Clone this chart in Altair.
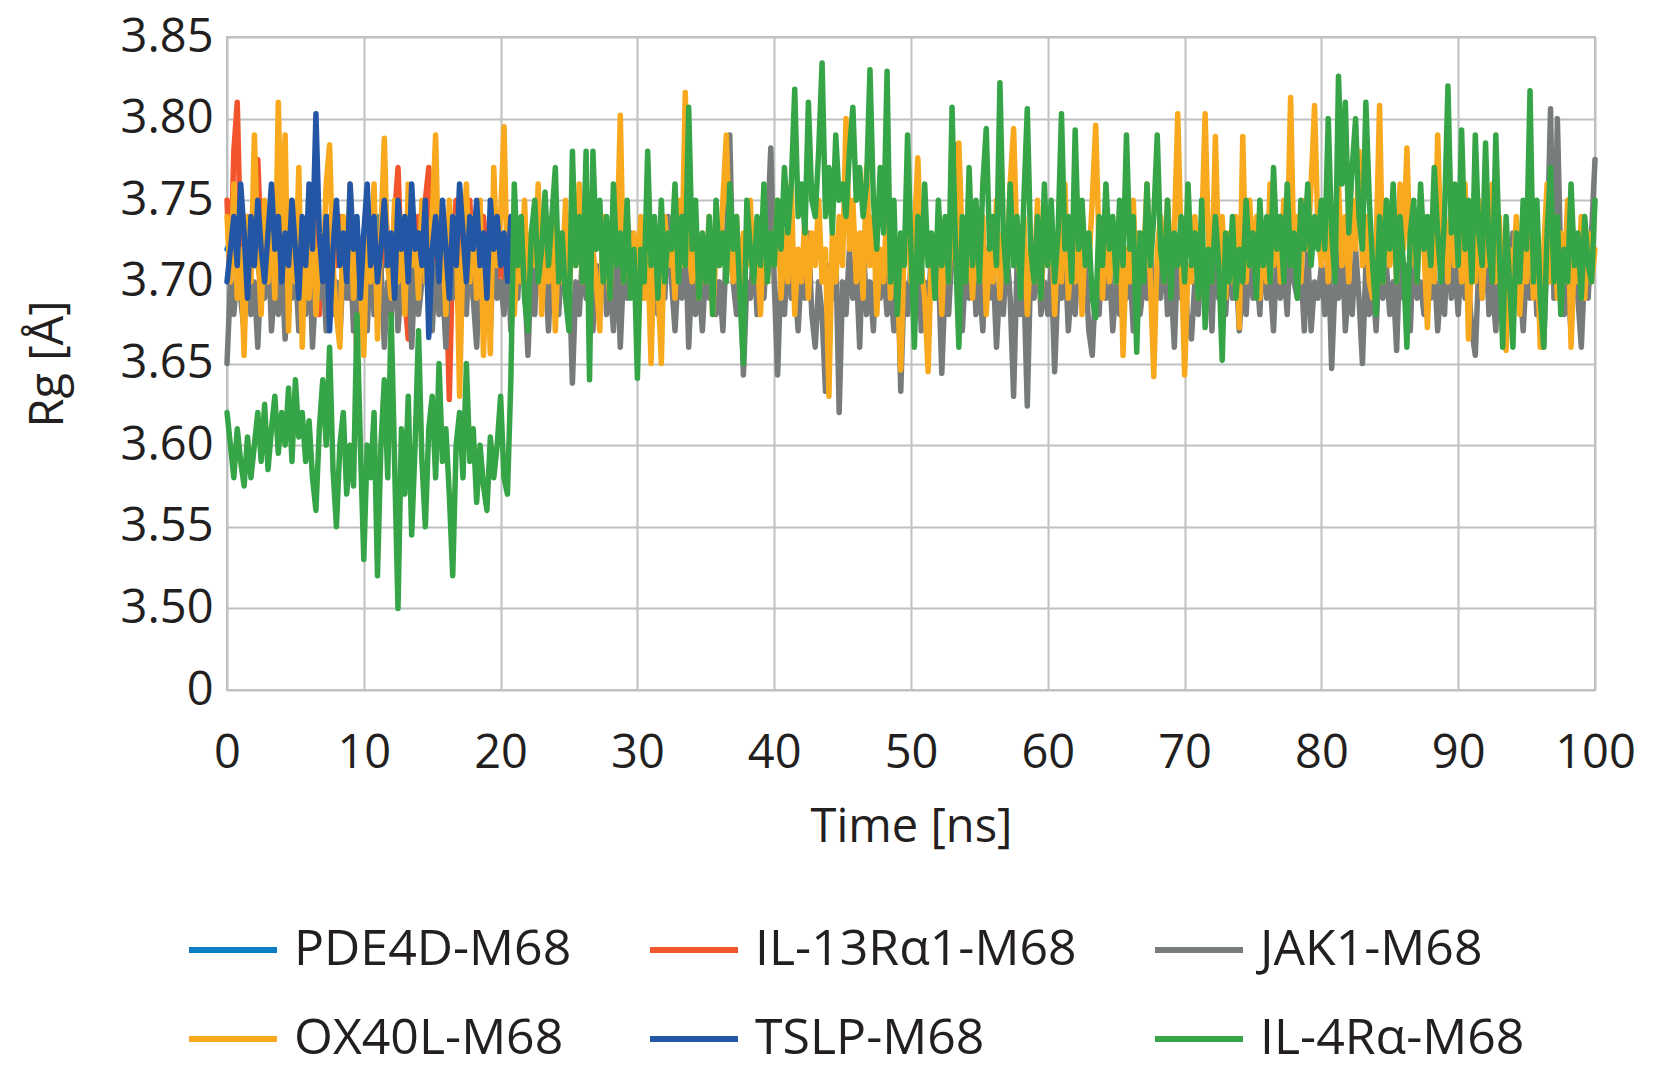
import altair as alt
import pandas as pd

# ---- series names / colours (legend order: row by row) ----
series_names = ["PDE4D-M68", "IL-13Rα1-M68", "JAK1-M68", "OX40L-M68", "TSLP-M68", "IL-4Rα-M68"]
series_colors = ["#0A7DC5", "#F2542B", "#777B7B", "#F9A91E", "#2456A6", "#36A547"]

# Rg values (sampling step in ns given per series)
pde4d_step = 0.5
pde4d = [3.72, 3.73, 3.71, 3.74, 3.72, 3.70, 3.73, 3.72, 3.74, 3.71, 3.73, 3.72, 3.70, 3.73, 3.72, 3.74, 3.71, 3.73, 3.72, 3.70,
         3.73, 3.72, 3.74, 3.71, 3.72, 3.73, 3.70, 3.72, 3.74, 3.71, 3.73, 3.72, 3.70, 3.73, 3.72, 3.74, 3.71, 3.72, 3.73, 3.71,
         3.72]

il13_step = 0.25
il13 = [3.75, 3.70, 3.78, 3.81, 3.72, 3.70, 3.69, 3.74, 3.71, 3.775, 3.72, 3.70, 3.74, 3.69, 3.72, 3.70, 3.75, 3.71, 3.68, 3.73,
        3.70, 3.74, 3.71, 3.69, 3.73, 3.70, 3.75, 3.68, 3.72, 3.70, 3.68, 3.73, 3.71, 3.74, 3.70, 3.72, 3.69, 3.73, 3.65, 3.72,
        3.70, 3.74, 3.71, 3.69, 3.73, 3.70, 3.76, 3.72, 3.70, 3.74, 3.77, 3.71, 3.69, 3.665, 3.73, 3.70, 3.74, 3.71, 3.75, 3.77,
        3.72, 3.70, 3.74, 3.69, 3.71, 3.628, 3.72, 3.75, 3.70, 3.74, 3.71, 3.75, 3.69, 3.72, 3.70, 3.74, 3.71, 3.69, 3.73, 3.70,
        3.72, 3.70, 3.73]

jak1_step = 0.25
jak1 = [3.65, 3.70, 3.68, 3.71, 3.69, 3.67, 3.72, 3.68, 3.70, 3.66, 3.71, 3.69, 3.73, 3.67, 3.70, 3.68, 3.71, 3.665, 3.70, 3.69,
        3.71, 3.67, 3.70, 3.68, 3.72, 3.66, 3.70, 3.69, 3.71, 3.67, 3.73, 3.68, 3.70, 3.665, 3.71, 3.69, 3.72, 3.67, 3.70, 3.68,
        3.70, 3.67, 3.72, 3.68, 3.69, 3.71, 3.66, 3.70, 3.68, 3.72, 3.67, 3.70, 3.69, 3.73, 3.66, 3.71, 3.68, 3.70, 3.74, 3.69,
        3.67, 3.71, 3.68, 3.70, 3.66, 3.72, 3.69, 3.71, 3.67, 3.70, 3.68, 3.73, 3.69, 3.66, 3.71, 3.68, 3.70, 3.67, 3.72, 3.69,
        3.70, 3.68, 3.72, 3.67, 3.70, 3.69, 3.73, 3.70, 3.655, 3.71, 3.68, 3.74, 3.69, 3.71, 3.67, 3.72, 3.70, 3.68, 3.73, 3.69,
        3.71, 3.638, 3.70, 3.68, 3.72, 3.69, 3.74, 3.67, 3.71, 3.69, 3.73, 3.68, 3.70, 3.67, 3.72, 3.66, 3.71, 3.69, 3.73, 3.70,
        3.68, 3.71, 3.69, 3.73, 3.67, 3.70, 3.68, 3.72, 3.69, 3.74, 3.70, 3.67, 3.71, 3.69, 3.73, 3.66, 3.71, 3.68, 3.70, 3.67,
        3.71, 3.69, 3.73, 3.68, 3.70, 3.67, 3.72, 3.79, 3.70, 3.68, 3.71, 3.643, 3.70, 3.69, 3.72, 3.68, 3.71, 3.69, 3.73, 3.782,
        3.70, 3.643, 3.71, 3.68, 3.72, 3.69, 3.70, 3.67, 3.71, 3.69, 3.73, 3.68, 3.66, 3.70, 3.68, 3.633, 3.71, 3.69, 3.72, 3.62,
        3.70, 3.68, 3.72, 3.69, 3.71, 3.66, 3.73, 3.68, 3.70, 3.67, 3.72, 3.69, 3.71, 3.68, 3.70, 3.67, 3.72, 3.633, 3.70, 3.68,
        3.71, 3.69, 3.73, 3.67, 3.70, 3.68, 3.72, 3.69, 3.71, 3.644, 3.70, 3.68, 3.72, 3.784, 3.70, 3.67, 3.71, 3.69, 3.73, 3.68,
        3.70, 3.67, 3.72, 3.69, 3.71, 3.66, 3.70, 3.68, 3.72, 3.69, 3.63, 3.71, 3.68, 3.70, 3.624, 3.71, 3.69, 3.73, 3.68, 3.70,
        3.68, 3.71, 3.645, 3.70, 3.69, 3.72, 3.67, 3.70, 3.68, 3.72, 3.69, 3.71, 3.67, 3.655, 3.70, 3.68, 3.73, 3.69, 3.71, 3.67,
        3.70, 3.68, 3.72, 3.69, 3.71, 3.67, 3.73, 3.68, 3.70, 3.69, 3.72, 3.67, 3.71, 3.69, 3.73, 3.68, 3.70, 3.66, 3.72, 3.69,
        3.71, 3.67, 3.665, 3.70, 3.68, 3.72, 3.69, 3.71, 3.67, 3.73, 3.69, 3.70, 3.68, 3.72, 3.69, 3.71, 3.67, 3.70, 3.68, 3.72,
        3.69, 3.71, 3.68, 3.73, 3.69, 3.70, 3.67, 3.72, 3.69, 3.71, 3.68, 3.73, 3.70, 3.69, 3.71, 3.67, 3.72, 3.67, 3.70, 3.69,
        3.71, 3.68, 3.72, 3.647, 3.70, 3.69, 3.73, 3.67, 3.70, 3.68, 3.72, 3.69, 3.65, 3.71, 3.68, 3.70, 3.67, 3.72, 3.69, 3.71,
        3.68, 3.70, 3.658, 3.72, 3.69, 3.71, 3.67, 3.73, 3.69, 3.70, 3.68, 3.72, 3.69, 3.71, 3.67, 3.70, 3.68, 3.73, 3.69, 3.71,
        3.68, 3.72, 3.69, 3.70, 3.67, 3.655, 3.71, 3.69, 3.73, 3.68, 3.70, 3.67, 3.72, 3.69, 3.71, 3.68, 3.73, 3.69, 3.70, 3.67,
        3.71, 3.69, 3.73, 3.68, 3.70, 3.66, 3.72, 3.806, 3.69, 3.80, 3.71, 3.68, 3.70, 3.67, 3.72, 3.69, 3.66, 3.71, 3.69, 3.73,
        3.775]

ox40l_step = 0.25
ox40l = [3.74, 3.70, 3.76, 3.69, 3.72, 3.655, 3.74, 3.70, 3.79, 3.72, 3.68, 3.75, 3.70, 3.74, 3.69, 3.81, 3.72, 3.79, 3.67, 3.75,
         3.70, 3.77, 3.66, 3.73, 3.69, 3.75, 3.68, 3.72, 3.70, 3.76, 3.784, 3.71, 3.68, 3.66, 3.74, 3.70, 3.76, 3.69, 3.73, 3.70,
         3.655, 3.74, 3.70, 3.76, 3.665, 3.73, 3.788, 3.71, 3.69, 3.75, 3.70, 3.74, 3.68, 3.76, 3.71, 3.73, 3.69, 3.75, 3.70, 3.72,
         3.74, 3.79, 3.70, 3.73, 3.68, 3.75, 3.71, 3.74, 3.63, 3.72, 3.76, 3.70, 3.74, 3.69, 3.75, 3.655, 3.72, 3.656, 3.77, 3.71,
         3.74, 3.795, 3.70, 3.73, 3.68, 3.72, 3.70, 3.75, 3.69, 3.73, 3.71, 3.76, 3.68, 3.72, 3.70, 3.74, 3.67, 3.73, 3.70, 3.75,
         3.69, 3.73, 3.71, 3.76, 3.70, 3.74, 3.68, 3.72, 3.70, 3.67, 3.74, 3.71, 3.69, 3.75, 3.72, 3.802, 3.70, 3.74, 3.71, 3.73,
         3.70, 3.74, 3.69, 3.72, 3.65, 3.73, 3.70, 3.65, 3.74, 3.71, 3.73, 3.69, 3.75, 3.71, 3.816, 3.72, 3.70, 3.74, 3.69, 3.73,
         3.70, 3.74, 3.68, 3.72, 3.71, 3.75, 3.79, 3.72, 3.70, 3.74, 3.69, 3.73, 3.71, 3.75, 3.70, 3.72, 3.68, 3.74, 3.70, 3.73,
         3.71, 3.75, 3.69, 3.73, 3.70, 3.76, 3.68, 3.72, 3.70, 3.74, 3.69, 3.73, 3.71, 3.75, 3.70, 3.72, 3.63, 3.73, 3.70, 3.74,
         3.71, 3.80, 3.72, 3.75, 3.70, 3.73, 3.69, 3.77, 3.71, 3.74, 3.68, 3.72, 3.70, 3.75, 3.69, 3.73, 3.70, 3.646, 3.72, 3.74,
         3.70, 3.73, 3.776, 3.71, 3.69, 3.645, 3.72, 3.70, 3.74, 3.68, 3.73, 3.70, 3.76, 3.71, 3.785, 3.72, 3.70, 3.74, 3.69, 3.73,
         3.70, 3.74, 3.68, 3.72, 3.70, 3.75, 3.69, 3.73, 3.71, 3.76, 3.794, 3.72, 3.70, 3.74, 3.68, 3.72, 3.70, 3.75, 3.69, 3.73,
         3.71, 3.74, 3.68, 3.73, 3.70, 3.76, 3.69, 3.72, 3.70, 3.74, 3.68, 3.73, 3.71, 3.75, 3.796, 3.72, 3.69, 3.74, 3.70, 3.73,
         3.70, 3.74, 3.655, 3.72, 3.70, 3.75, 3.69, 3.73, 3.71, 3.76, 3.70, 3.642, 3.72, 3.74, 3.70, 3.75, 3.71, 3.73, 3.803, 3.72,
         3.643, 3.71, 3.70, 3.74, 3.69, 3.73, 3.803, 3.72, 3.70, 3.789, 3.71, 3.74, 3.69, 3.73, 3.70, 3.74, 3.672, 3.789, 3.70, 3.75,
         3.71, 3.74, 3.69, 3.73, 3.70, 3.76, 3.71, 3.74, 3.70, 3.75, 3.72, 3.813, 3.71, 3.74, 3.70, 3.75, 3.72, 3.76, 3.808, 3.73,
         3.71, 3.75, 3.70, 3.74, 3.72, 3.76, 3.71, 3.74, 3.70, 3.75, 3.72, 3.78, 3.71, 3.74, 3.70, 3.69, 3.72, 3.808, 3.70, 3.75,
         3.71, 3.74, 3.70, 3.76, 3.72, 3.782, 3.71, 3.74, 3.70, 3.75, 3.72, 3.672, 3.73, 3.70, 3.79, 3.72, 3.74, 3.70, 3.75, 3.71,
         3.74, 3.70, 3.76, 3.665, 3.72, 3.70, 3.75, 3.69, 3.73, 3.71, 3.76, 3.70, 3.74, 3.69, 3.658, 3.72, 3.70, 3.74, 3.68, 3.72,
         3.70, 3.74, 3.69, 3.73, 3.66, 3.72, 3.76, 3.70, 3.74, 3.69, 3.73, 3.70, 3.75, 3.66, 3.72, 3.70, 3.74, 3.69, 3.73, 3.70,
         3.72]

tslp_step = 0.25
tslp = [3.70, 3.72, 3.74, 3.71, 3.76, 3.73, 3.69, 3.74, 3.71, 3.75, 3.72, 3.70, 3.73, 3.76, 3.72, 3.74, 3.70, 3.73, 3.71, 3.75,
        3.72, 3.69, 3.74, 3.71, 3.76, 3.72, 3.803, 3.73, 3.70, 3.74, 3.67, 3.72, 3.75, 3.71, 3.73, 3.70, 3.76, 3.72, 3.74, 3.69,
        3.73, 3.76, 3.71, 3.74, 3.70, 3.72, 3.75, 3.71, 3.73, 3.69, 3.75, 3.72, 3.74, 3.70, 3.76, 3.72, 3.73, 3.71, 3.75, 3.666,
        3.72, 3.74, 3.70, 3.75, 3.72, 3.69, 3.74, 3.71, 3.76, 3.73, 3.70, 3.74, 3.72, 3.75, 3.71, 3.73, 3.69, 3.75, 3.72, 3.74,
        3.71, 3.73, 3.70, 3.74, 3.72]

il4_step = 0.25
il4 = [3.62, 3.60, 3.58, 3.61, 3.59, 3.575, 3.605, 3.58, 3.60, 3.62, 3.59, 3.625, 3.585, 3.61, 3.63, 3.595, 3.62, 3.60, 3.635, 3.59,
       3.64, 3.605, 3.62, 3.59, 3.615, 3.58, 3.56, 3.61, 3.64, 3.60, 3.66, 3.585, 3.55, 3.60, 3.62, 3.57, 3.60, 3.575, 3.68, 3.60,
       3.53, 3.60, 3.58, 3.62, 3.52, 3.60, 3.64, 3.58, 3.68, 3.59, 3.50, 3.61, 3.57, 3.63, 3.545, 3.60, 3.67, 3.59, 3.55, 3.61,
       3.63, 3.58, 3.65, 3.59, 3.61, 3.57, 3.52, 3.60, 3.62, 3.58, 3.65, 3.59, 3.61, 3.565, 3.60, 3.575, 3.56, 3.605, 3.58, 3.60,
       3.63, 3.58, 3.57, 3.64, 3.76, 3.71, 3.74, 3.69, 3.67, 3.73, 3.75, 3.70, 3.72, 3.755, 3.71, 3.74, 3.77, 3.70, 3.73, 3.69,
       3.67, 3.78, 3.71, 3.74, 3.70, 3.78, 3.64, 3.78, 3.72, 3.75, 3.70, 3.74, 3.69, 3.76, 3.71, 3.73, 3.70, 3.75, 3.69, 3.72,
       3.641, 3.72, 3.70, 3.78, 3.71, 3.74, 3.69, 3.75, 3.70, 3.73, 3.72, 3.76, 3.70, 3.74, 3.71, 3.807, 3.72, 3.75, 3.69, 3.73,
       3.70, 3.74, 3.68, 3.75, 3.71, 3.73, 3.70, 3.76, 3.72, 3.74, 3.69, 3.65, 3.75, 3.72, 3.70, 3.74, 3.71, 3.76, 3.70, 3.73,
       3.71, 3.75, 3.72, 3.77, 3.73, 3.76, 3.818, 3.74, 3.76, 3.73, 3.81, 3.75, 3.74, 3.78, 3.834, 3.74, 3.77, 3.73, 3.79, 3.75,
       3.76, 3.74, 3.78, 3.807, 3.75, 3.77, 3.74, 3.76, 3.83, 3.75, 3.72, 3.77, 3.73, 3.829, 3.70, 3.75, 3.68, 3.73, 3.71, 3.79,
       3.72, 3.66, 3.74, 3.70, 3.76, 3.71, 3.73, 3.69, 3.75, 3.71, 3.74, 3.70, 3.807, 3.72, 3.66, 3.74, 3.70, 3.77, 3.71, 3.75,
       3.70, 3.76, 3.794, 3.72, 3.74, 3.71, 3.822, 3.73, 3.70, 3.76, 3.71, 3.74, 3.69, 3.75, 3.806, 3.72, 3.70, 3.74, 3.69, 3.76,
       3.71, 3.75, 3.70, 3.73, 3.803, 3.72, 3.74, 3.70, 3.793, 3.72, 3.75, 3.71, 3.73, 3.69, 3.678, 3.74, 3.71, 3.76, 3.72, 3.74,
       3.70, 3.75, 3.71, 3.79, 3.72, 3.74, 3.657, 3.73, 3.70, 3.76, 3.71, 3.74, 3.79, 3.72, 3.70, 3.75, 3.69, 3.73, 3.71, 3.74,
       3.70, 3.76, 3.71, 3.73, 3.69, 3.75, 3.672, 3.72, 3.70, 3.74, 3.71, 3.652, 3.73, 3.70, 3.74, 3.69, 3.72, 3.70, 3.75, 3.71,
       3.73, 3.69, 3.75, 3.71, 3.74, 3.70, 3.77, 3.72, 3.74, 3.70, 3.76, 3.71, 3.73, 3.69, 3.75, 3.72, 3.76, 3.71, 3.74, 3.72,
       3.75, 3.72, 3.80, 3.73, 3.70, 3.826, 3.76, 3.81, 3.73, 3.77, 3.80, 3.74, 3.72, 3.81, 3.75, 3.71, 3.68, 3.74, 3.70, 3.75,
       3.72, 3.76, 3.70, 3.74, 3.71, 3.66, 3.73, 3.75, 3.70, 3.76, 3.72, 3.74, 3.71, 3.77, 3.73, 3.70, 3.74, 3.82, 3.73, 3.76,
       3.71, 3.793, 3.72, 3.75, 3.70, 3.79, 3.73, 3.71, 3.785, 3.72, 3.70, 3.79, 3.72, 3.66, 3.74, 3.70, 3.66, 3.73, 3.70, 3.75,
       3.72, 3.817, 3.70, 3.75, 3.69, 3.66, 3.73, 3.77, 3.70, 3.74, 3.68, 3.72, 3.70, 3.76, 3.71, 3.73, 3.69, 3.74, 3.71, 3.70,
       3.75]

# drawing order bottom -> top
draw_order = [
    ("PDE4D-M68", pde4d, pde4d_step),
    ("IL-13Rα1-M68", il13, il13_step),
    ("JAK1-M68", jak1, jak1_step),
    ("OX40L-M68", ox40l, ox40l_step),
    ("TSLP-M68", tslp, tslp_step),
    ("IL-4Rα-M68", il4, il4_step),
]

y_ticks = [3.45, 3.50, 3.55, 3.60, 3.65, 3.70, 3.75, 3.80, 3.85]
x_ticks = [0, 10, 20, 30, 40, 50, 60, 70, 80, 90, 100]

rows = []
for name, vals, step in draw_order:
    for i, v in enumerate(vals):
        rows.append({"series": name, "time": round(i * step, 3), "rg": v})
df = pd.DataFrame(rows)

FONT = "Open Sans"
GRID = "#BDC1C1"
TEXT = "#231F20"

color = alt.Color(
    "series:N",
    scale=alt.Scale(domain=series_names, range=series_colors),
    legend=alt.Legend(
        title=None,
        orient="none",
        legendX=-41,
        legendY=866,
        direction="horizontal",
        columns=3,
        symbolType="stroke",
        symbolSize=7744,
        symbolStrokeWidth=6,
        labelFont=FONT,
        labelFontSize=50,
        labelColor=TEXT,
        labelOffset=14,
        labelLimit=600,
        columnPadding=66,
        rowPadding=17,
    ),
)

x = alt.X(
    "time:Q",
    scale=alt.Scale(domain=[0, 100], nice=False, zero=False),
    axis=alt.Axis(
        title="Time [ns]",
        values=x_ticks,
        grid=True,
        gridColor=GRID,
        gridWidth=2,
        ticks=False,
        domain=False,
        labelFlush=False,
        labelFont=FONT,
        labelFontSize=47,
        labelColor=TEXT,
        labelPadding=40,
        titleFont=FONT,
        titleFontSize=47,
        titleFontWeight="normal",
        titleColor=TEXT,
        titlePadding=28,
    ),
)

y = alt.Y(
    "rg:Q",
    scale=alt.Scale(domain=[3.45, 3.85], nice=False, zero=False),
    axis=alt.Axis(
        title="Rg [Å]",
        values=y_ticks,
        labelExpr="datum.value < 3.46 ? '0' : format(datum.value, '.2f')",
        grid=True,
        gridColor=GRID,
        gridWidth=2,
        ticks=False,
        domain=False,
        labelFlush=False,
        labelFont=FONT,
        labelFontSize=47,
        labelColor=TEXT,
        labelPadding=14,
        titleFont=FONT,
        titleFontSize=47,
        titleFontWeight="normal",
        titleColor=TEXT,
        titlePadding=48,
    ),
)

layers = []
for name, _, _ in draw_order:
    layers.append(
        alt.Chart(df)
        .transform_filter(alt.datum.series == name)
        .mark_line(strokeWidth=5.5, strokeJoin="round", strokeCap="round")
        .encode(x=x, y=y, color=color)
    )

chart = (
    alt.layer(*layers)
    .properties(
        width=1368,
        height=653,
        autosize=alt.AutoSizeParams(type="none"),
        padding={"left": 219, "top": 29, "right": 55, "bottom": 378},
        background="white",
    )
    .configure_view(stroke=GRID, strokeWidth=2)
)

chart.save("out.html", embed_options={"renderer": "svg", "actions": False})
